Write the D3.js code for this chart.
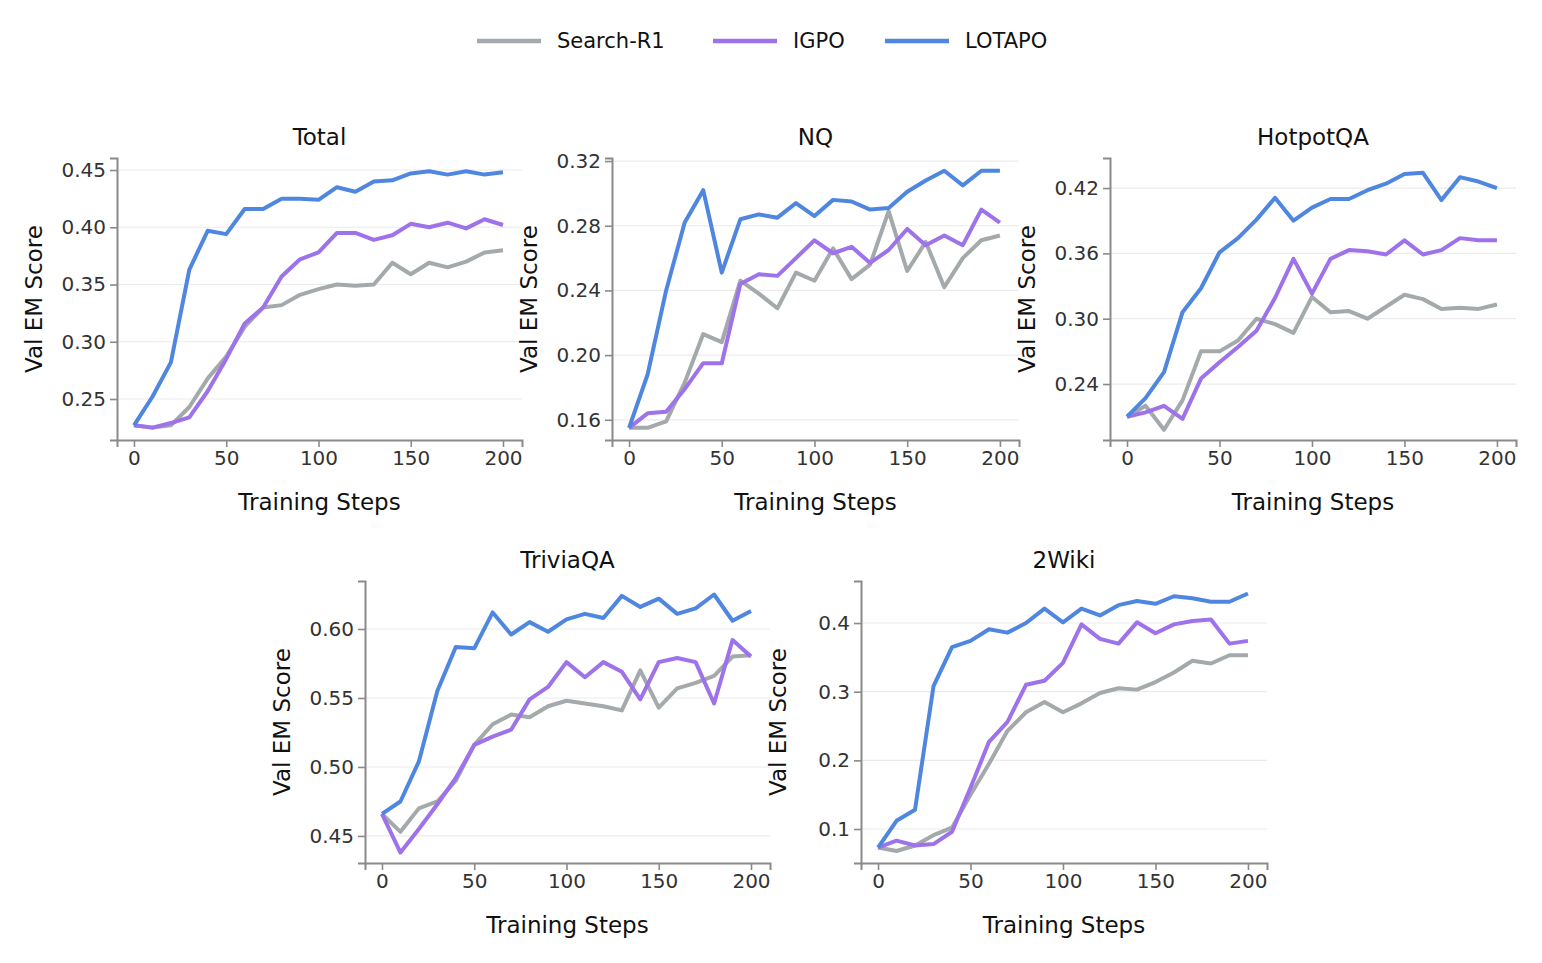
<!DOCTYPE html><html><head><meta charset="utf-8">
<script src="https://cdn.jsdelivr.net/npm/d3@7"></script>
<style>body{margin:0;background:#fff}text{font-family:"DejaVu Sans",sans-serif}</style></head><body>
<svg id="c" width="1542" height="963"></svg>
<script>
const steps = d3.range(0, 201, 10);
const seriesNames = ["Search-R1", "IGPO", "LOTAPO"];
const colors = ["#a4a9ab", "#9d72ea", "#4f87e0"];
const panelTitles = ["Total", "NQ", "HotpotQA", "TriviaQA", "2Wiki"];
const yTicks = [[0.25,0.30,0.35,0.40,0.45],[0.16,0.20,0.24,0.28,0.32],[0.24,0.30,0.36,0.42],[0.45,0.50,0.55,0.60],[0.1,0.2,0.3,0.4]];
const yFormats = [".2f",".2f",".2f",".2f",".1f"];
const yDomains = [[0.2142,0.4605],[0.1475,0.3219],[0.1886,0.4476],[0.4304,0.6348],[0.0505,0.4612]];
const xTicks = [0,50,100,150,200];
// Search-R1, IGPO, LOTAPO per panel
const totalSearch = [0.227,0.225,0.227,0.243,0.268,0.287,0.313,0.330,0.332,0.341,0.346,0.350,0.349,0.350,0.369,0.359,0.369,0.365,0.370,0.378,0.380];
const totalIGPO = [0.227,0.225,0.229,0.234,0.257,0.285,0.316,0.330,0.357,0.372,0.378,0.395,0.395,0.389,0.393,0.403,0.400,0.404,0.399,0.407,0.402];
const totalLOTAPO = [0.227,0.252,0.282,0.363,0.397,0.394,0.416,0.416,0.425,0.425,0.424,0.435,0.431,0.440,0.441,0.447,0.449,0.446,0.449,0.446,0.448];
const nqSearch = [0.155,0.155,0.159,0.183,0.213,0.208,0.246,0.238,0.229,0.251,0.246,0.266,0.247,0.256,0.289,0.252,0.270,0.242,0.260,0.271,0.274];
const nqIGPO = [0.155,0.164,0.165,0.179,0.195,0.195,0.244,0.250,0.249,0.260,0.271,0.263,0.267,0.257,0.265,0.278,0.268,0.274,0.268,0.290,0.282];
const nqLOTAPO = [0.155,0.188,0.240,0.282,0.302,0.251,0.284,0.287,0.285,0.294,0.286,0.296,0.295,0.290,0.291,0.301,0.308,0.314,0.305,0.314,0.314];
const hotSearch = [0.210,0.220,0.198,0.225,0.270,0.270,0.280,0.300,0.295,0.287,0.320,0.306,0.307,0.300,0.311,0.322,0.318,0.309,0.310,0.309,0.313];
const hotIGPO = [0.210,0.214,0.220,0.208,0.245,0.260,0.274,0.289,0.319,0.355,0.323,0.355,0.363,0.362,0.359,0.372,0.359,0.363,0.374,0.372,0.372];
const hotLOTAPO = [0.210,0.227,0.251,0.306,0.328,0.361,0.374,0.391,0.411,0.390,0.402,0.410,0.410,0.418,0.424,0.433,0.434,0.409,0.430,0.426,0.420];
const triSearch = [0.466,0.453,0.470,0.475,0.490,0.516,0.531,0.538,0.536,0.544,0.548,0.546,0.544,0.541,0.570,0.543,0.557,0.561,0.566,0.580,0.581];
const triIGPO = [0.466,0.438,0.455,0.473,0.492,0.516,0.522,0.527,0.549,0.558,0.576,0.565,0.576,0.569,0.549,0.576,0.579,0.576,0.546,0.592,0.580];
const triLOTAPO = [0.466,0.475,0.504,0.555,0.587,0.586,0.612,0.596,0.605,0.598,0.607,0.611,0.608,0.624,0.616,0.622,0.611,0.615,0.625,0.606,0.613];
const wikiSearch = [0.073,0.068,0.076,0.091,0.102,0.150,0.195,0.243,0.270,0.285,0.270,0.283,0.298,0.305,0.303,0.314,0.328,0.345,0.341,0.353,0.353];
const wikiIGPO = [0.073,0.083,0.076,0.078,0.096,0.160,0.227,0.256,0.310,0.316,0.342,0.398,0.377,0.370,0.401,0.385,0.398,0.403,0.405,0.370,0.374];
const wikiLOTAPO = [0.073,0.112,0.128,0.308,0.365,0.374,0.391,0.386,0.400,0.421,0.401,0.421,0.411,0.426,0.432,0.428,0.439,0.436,0.431,0.431,0.443];
const panelData = [[totalSearch,totalIGPO,totalLOTAPO],[nqSearch,nqIGPO,nqLOTAPO],[hotSearch,hotIGPO,hotLOTAPO],[triSearch,triIGPO,triLOTAPO],[wikiSearch,wikiIGPO,wikiLOTAPO]];

const svg = d3.select("#c");
const boxes = [{l:117,t:158,w:405,h:282},{l:612,t:158,w:407,h:282},{l:1110,t:158,w:406,h:282},{l:365,t:581,w:405,h:282},{l:861,t:581,w:406,h:282}];
const axisCol = "#8a8a8a";
boxes.forEach((b,i)=>{
  const g = svg.append("g").attr("transform",`translate(${b.l},${b.t})`);
  const x = d3.scaleLinear().domain([-9.2,210.3]).range([0,b.w]);
  const y = d3.scaleLinear().domain(yDomains[i]).range([b.h,0]);
  g.selectAll("line.grid").data(yTicks[i]).join("line").attr("x1",0).attr("x2",b.w)
    .attr("y1",d=>y(d)).attr("y2",d=>y(d)).attr("stroke","#ebebeb").attr("stroke-width",1.2);
  const xa = g.append("g").attr("transform",`translate(0,${b.h})`).call(d3.axisBottom(x).tickValues(xTicks).tickSize(7).tickPadding(4));
  const ya = g.append("g").call(d3.axisLeft(y).tickValues(yTicks[i]).tickFormat(d3.format(yFormats[i])).tickSize(7).tickPadding(4));
  [xa,ya].forEach(a=>{a.select(".domain").attr("stroke",axisCol).attr("stroke-width",2);
    a.selectAll(".tick line").attr("stroke",axisCol).attr("stroke-width",1.6);
    a.selectAll("text").attr("font-size",20).attr("fill","#333").attr("font-family","DejaVu Sans");});
  const line = d3.line().x((d,j)=>x(steps[j])).y(d=>y(d));
  panelData[i].forEach((s,k)=>{
    g.append("path").datum(s).attr("d",line).attr("fill","none").attr("stroke",colors[k]).attr("stroke-width",4).attr("stroke-linejoin","round");
  });
  g.append("text").attr("x",b.w/2).attr("y",-13).attr("text-anchor","middle").attr("font-size",23).attr("fill","#111").text(panelTitles[i]);
  g.append("text").attr("x",b.w/2).attr("y",b.h+70).attr("text-anchor","middle").attr("font-size",23).attr("fill","#111").text("Training Steps");
  g.append("text").attr("transform",`translate(-75,${b.h/2}) rotate(-90)`).attr("text-anchor","middle").attr("font-size",23).attr("fill","#111").text("Val EM Score");
});
const leg = svg.append("g");
const legX = [477,713,885];
seriesNames.forEach((n,k)=>{
  leg.append("line").attr("x1",legX[k]).attr("x2",legX[k]+64).attr("y1",41).attr("y2",41).attr("stroke",colors[k]).attr("stroke-width",4.5);
  leg.append("text").attr("x",legX[k]+80).attr("y",48).attr("font-size",21).attr("fill","#111").text(n);
});
</script></body></html>
